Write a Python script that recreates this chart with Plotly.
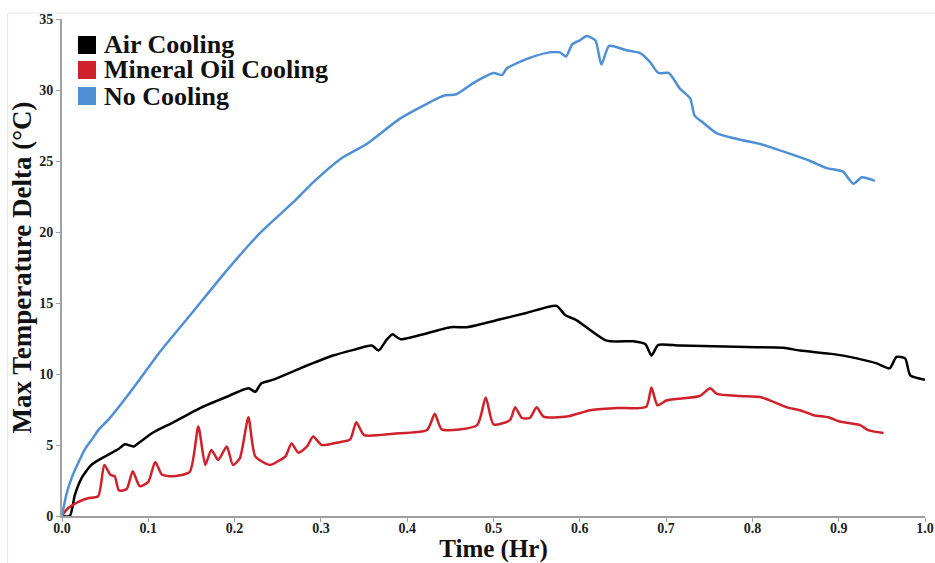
import plotly.graph_objects as go

# ---- data ----
no_cool_x = [0, 0.005, 0.011, 0.017, 0.027, 0.036, 0.042, 0.054, 0.075, 0.1, 0.114, 0.152, 0.191, 0.229,
             0.268, 0.291, 0.324, 0.353, 0.392, 0.425, 0.442, 0.457, 0.477, 0.5, 0.51, 0.515, 0.533,
             0.546, 0.565, 0.577, 0.584, 0.591, 0.6, 0.608, 0.618, 0.625, 0.634, 0.654, 0.67, 0.681,
             0.691, 0.703, 0.716, 0.728, 0.733, 0.743, 0.759, 0.786, 0.809, 0.844, 0.867, 0.886,
             0.905, 0.917, 0.927, 0.942]
no_cool_y = [0, 1.5, 2.65, 3.5, 4.75, 5.5, 6.05, 6.8, 8.4, 10.45, 11.6, 14.4, 17.3, 19.9,
             22.1, 23.5, 25.2, 26.2, 28.0, 29.1, 29.6, 29.7, 30.5, 31.2, 31.05, 31.5, 32.05,
             32.35, 32.65, 32.65, 32.35, 33.2, 33.5, 33.8, 33.5, 31.8, 33.1, 32.8, 32.6, 32.0,
             31.2, 31.2, 30.1, 29.4, 28.2, 27.7, 26.95, 26.5, 26.2, 25.5, 25.0, 24.5,
             24.25, 23.4, 23.85, 23.6]

air_x = [0, 0.009, 0.015, 0.023, 0.034, 0.05, 0.065, 0.073, 0.083, 0.09, 0.106, 0.129, 0.16, 0.191,
         0.216, 0.224, 0.231, 0.245, 0.276, 0.314, 0.338, 0.359, 0.367, 0.376, 0.383, 0.392, 0.45,
         0.469, 0.508, 0.538, 0.573, 0.583, 0.596, 0.631, 0.662, 0.676, 0.683, 0.691, 0.716, 0.793,
         0.836, 0.855, 0.894, 0.921, 0.944, 0.959, 0.967, 0.977, 0.983, 1.0]
air_y = [0, 0, 1.5, 2.7, 3.6, 4.2, 4.7, 5.05, 4.9, 5.2, 5.9, 6.6, 7.6, 8.4,
         9.0, 8.75, 9.35, 9.6, 10.4, 11.3, 11.7, 12.0, 11.65, 12.4, 12.8, 12.45, 13.3,
         13.3, 13.85, 14.3, 14.8, 14.15, 13.8, 12.35, 12.3, 12.1, 11.3, 12.05, 12.0, 11.9,
         11.85, 11.65, 11.4, 11.1, 10.75, 10.4, 11.2, 11.1, 9.9, 9.6]

oil_x = [0, 0.002, 0.007, 0.019, 0.03, 0.042, 0.049, 0.056, 0.061, 0.066, 0.075, 0.082, 0.09, 0.1,
         0.108, 0.116, 0.129, 0.148, 0.158, 0.166, 0.173, 0.181, 0.191, 0.198, 0.206, 0.216, 0.224,
         0.241, 0.253, 0.259, 0.266, 0.274, 0.284, 0.291, 0.301, 0.322, 0.334, 0.341, 0.35, 0.384,
         0.423, 0.432, 0.44, 0.481, 0.491, 0.5, 0.519, 0.525, 0.533, 0.542, 0.55, 0.558, 0.585,
         0.612, 0.643, 0.677, 0.683, 0.69, 0.701, 0.739, 0.751, 0.759, 0.786, 0.811, 0.84, 0.855,
         0.871, 0.888, 0.901, 0.925, 0.934, 0.952]
oil_y = [0, 0.2, 0.55, 1.0, 1.25, 1.4, 3.6, 2.9, 2.8, 1.8, 1.9, 3.15, 2.1, 2.4,
         3.8, 2.9, 2.8, 3.1, 6.3, 3.6, 4.65, 3.95, 4.9, 3.6, 4.05, 6.95, 4.2,
         3.6, 3.95, 4.2, 5.1, 4.45, 4.9, 5.6, 5.0, 5.2, 5.4, 6.6, 5.7, 5.8,
         6.05, 7.2, 6.1, 6.4, 8.35, 6.45, 6.75, 7.65, 6.9, 6.9, 7.65, 7.0, 7.0,
         7.45, 7.6, 7.7, 9.05, 7.8, 8.15, 8.45, 9.0, 8.6, 8.45, 8.35, 7.65, 7.45,
         7.1, 6.95, 6.65, 6.4, 6.05, 5.85]

series_names = ["Air Cooling", "Mineral Oil Cooling", "No Cooling"]
series_colors = ["#000000", "#d0202a", "#4f8fd4"]
x_ticks = [0.0, 0.1, 0.2, 0.3, 0.4, 0.5, 0.6, 0.7, 0.8, 0.9, 1.0]
y_ticks = [0, 5, 10, 15, 20, 25, 30, 35]

FONT = "Liberation Serif"

fig = go.Figure()
data = [(air_x, air_y), (oil_x, oil_y), (no_cool_x, no_cool_y)]
for (xs, ys), name, col in zip(data, series_names, series_colors):
    fig.add_trace(go.Scatter(x=xs, y=ys, mode="lines", name=name, showlegend=False,
                             line=dict(color=col, width=2.5, shape="spline", smoothing=0.6)))

axis_common = dict(showgrid=False, zeroline=False, showline=True, linecolor="#a0a0a0", linewidth=2,
                   ticks="outside", tickcolor="#a0a0a0", ticklen=4, tickwidth=1, automargin=False,
                   tickfont=dict(family=FONT, size=14, color="#222222", weight="bold"))

# legend drawn as squares + text (paper coordinates)
shapes = [dict(type="rect", xref="paper", yref="paper", x0=-0.063, x1=1.02, y0=-0.1, y1=1.012,
               line=dict(color="#e6e6e6", width=1))]
annotations = []
leg_y = [0.9477, 0.8974, 0.845]
for name, col, ly in zip(series_names, series_colors, leg_y):
    shapes.append(dict(type="rect", xref="paper", yref="paper", x0=0.0185, x1=0.0394,
                       y0=ly - 0.0181, y1=ly + 0.0181, fillcolor=col, line=dict(width=0)))
    annotations.append(dict(text=name, xref="paper", yref="paper", x=0.0465, y=ly,
                            xanchor="left", yanchor="middle", showarrow=False,
                            font=dict(family=FONT, size=26, color="#111", weight="bold")))

fig.update_layout(
    width=935, height=563,
    margin=dict(l=62, r=10, t=19, b=47),
    paper_bgcolor="white", plot_bgcolor="white",
    showlegend=False,
    xaxis=dict(range=[0, 1.0], tickvals=x_ticks, tickformat=".1f", ticklabelstandoff=-6,
               title=dict(text="Time (Hr)", font=dict(family=FONT, size=25, color="#111", weight="bold"),
                          standoff=0),
               **axis_common),
    yaxis=dict(range=[0, 35], tickvals=y_ticks,
               title=dict(text="Max Temperature Delta (°C)",
                          font=dict(family=FONT, size=27, color="#111", weight="bold"), standoff=0),
               **axis_common),
    shapes=shapes,
    annotations=annotations,
)

fig.write_html("out.html")
